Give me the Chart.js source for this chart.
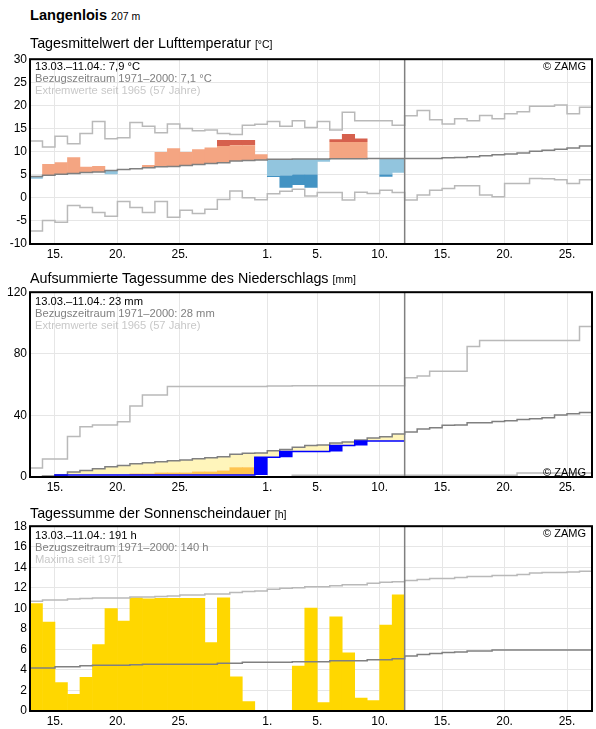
<!DOCTYPE html>
<html>
<head>
<meta charset="utf-8">
<script src="https://cdn.jsdelivr.net/npm/chart.js@4.4.1/dist/chart.umd.min.js"></script>
<style>
  body { margin: 0; background: #fff; font-family: "Liberation Sans", Arial, sans-serif; }
  #page { position: relative; width: 596px; height: 729px; overflow: hidden; }
  canvas { position: absolute; left: 0; }
  .t { position: absolute; white-space: nowrap; color: #000; z-index: 2; }
  .head { left: 30px; top: 6px; font-size: 14.6px; font-weight: bold; line-height: 18px; }
  .head small { font-size: 10.5px; font-weight: normal; }
  .ttl { left: 30px; font-size: 14.3px; line-height: 18px; }
  .ttl small { font-size: 10.5px; }
  .info { left: 35px; font-size: 11.2px; line-height: 12px; }
  .info .ref { color: #808080; }
  .info .ext { color: #c8c8c8; }
  .zamg { right: 10px; font-size: 11px; line-height: 12px; }
</style>
</head>
<body>
<div id="page">
  <canvas id="tempChart" width="596" height="215" style="top:49px"></canvas>
  <canvas id="rainChart" width="596" height="215" style="top:282px"></canvas>
  <canvas id="sunChart" width="596" height="215" style="top:516px"></canvas>

  <div class="t head">Langenlois <small>207 m</small></div>

  <div class="t ttl" style="top:34px">Tagesmittelwert der Lufttemperatur <small>[°C]</small></div>
  <div class="t info" style="top:59.5px">13.03.–11.04.: 7,9 °C<br><span class="ref">Bezugszeitraum 1971–2000: 7,1 °C</span><br><span class="ext">Extremwerte seit 1965 (57 Jahre)</span></div>
  <div class="t zamg" style="top:60px">© ZAMG</div>

  <div class="t ttl" style="top:269px">Aufsummierte Tagessumme des Niederschlags <small>[mm]</small></div>
  <div class="t info" style="top:294.5px">13.03.–11.04.: 23 mm<br><span class="ref">Bezugszeitraum 1971–2000: 28 mm</span><br><span class="ext">Extremwerte seit 1965 (57 Jahre)</span></div>
  <div class="t zamg" style="top:466px">© ZAMG</div>

  <div class="t ttl" style="top:504px">Tagessumme der Sonnenscheindauer <small>[h]</small></div>
  <div class="t info" style="top:528.5px">13.03.–11.04.: 191 h<br><span class="ref">Bezugszeitraum 1971–2000: 140 h</span><br><span class="ext">Maxima seit 1971</span></div>
  <div class="t zamg" style="top:527px">© ZAMG</div>
</div>

<script>
// days counted from 13.03. (day 0) to 26.04. (day 44), observations up to 11.04. (day 29)
const tickDays = [2, 7, 12, 19, 23, 28, 33, 38, 43];
const tickLabels = ['15.', '20.', '25.', '1.', '5.', '10.', '15.', '20.', '25.'];
const todayLine = 30;

// temperature [°C]
const tempObs = [4.1, 7.3, 7.7, 8.8, 6.7, 6.9, 5.1, 6.1, 6.3, 7.1, 9.9, 10.7, 9.9, 10.5, 10.9,
  12.5, 12.5, 12.5, 9.45, 4.5, 2.2, 2.75, 2.2, 7.8, 12.7, 13.8, 12.85, 8.5, 4.55, 5.4];
const tempMean = [4.6, 4.9, 5.1, 5.25, 5.5, 5.6, 5.9, 6.1, 6.3, 6.5, 6.7, 6.8, 7.0, 7.2, 7.4,
  7.6, 7.95, 8.1, 8.2, 8.35, 8.35, 8.4, 8.4, 8.4, 8.45, 8.45, 8.45, 8.5, 8.5, 8.5,
  8.5, 8.5, 8.5, 8.65, 8.7, 8.9, 9.1, 9.3, 9.5, 9.7, 10.05, 10.3, 10.5, 10.8, 11.2];
const tempHigh = [8.4, 8.6, 8.8, 9.0, 9.2, 9.4, 9.6, 9.8, 10.0, 10.2, 10.4, 10.8, 10.9, 11.0, 11.1,
  11.2, 11.4, 11.4, 11.5, 11.6, 11.7, 11.8, 11.9, 12.0, 12.1, 12.1, 12.1, 12.2, 12.2, 12.3];
const tempLow = [1.0, 1.2, 1.4, 1.6, 1.8, 2.0, 2.2, 2.4, 2.6, 2.8, 3.0, 3.2, 3.4, 3.6, 3.8,
  4.0, 4.2, 4.4, 4.6, 4.7, 4.9, 5.1, 5.1, 5.1, 5.1, 5.1, 5.1, 5.1, 5.1, 5.1];
const tempMax = [12.3, 11.0, 13.3, 11.7, 13.9, 16.5, 12.8, 13.0, 16.3, 15.5, 14.1, 16.0, 15.0, 14.5, 14.7,
  13.9, 13.7, 15.7, 15.9, 16.5, 15.5, 16.7, 15.2, 16.5, 14.7, 18.5, 16.7, 16.7, 16.7, 15.7,
  17.75, 18.9, 16.9, 16.0, 17.1, 16.7, 17.8, 17.1, 18.2, 18.6, 19.8, 19.8, 20.1, 18.2, 19.6];
const tempMin = [-7.2, -4.9, -5.3, -1.65, -2.1, -3.2, -4.0, -0.8, -2.1, -3.2, -0.8, -4.2, -2.7, -3.4, -2.5,
  -0.35, 1.45, 0.0, -0.4, 0.9, 1.4, 1.85, 0.4, 1.15, 1.15, -0.45, 1.2, 0.95, 1.65, 1.15,
  -0.5, 0.6, 1.65, 2.0, 2.6, 2.6, 0.6, 0.25, 3.1, 3.1, 4.2, 4.1, 3.9, 3.1, 3.9];

// cumulative precipitation [mm]
const rainObs = [0, 0, 1.3, 1.3, 1.3, 1.3, 1.3, 1.3, 1.3, 1.3, 1.3, 1.3, 1.3, 1.3, 1.3,
  1.3, 1.3, 1.3, 12.8, 12.8, 16.5, 16.5, 16.5, 16.5, 20.4, 20.4, 23.4, 23.4, 23.4, 23.4];
const rainLow = [0, 0.65, 0.9, 1.0, 1.1, 1.2, 1.25, 1.3, 2.35, 2.35, 3.0, 3.0, 3.0, 3.65, 3.65,
  4.2, 6.3, 6.3, 6.5, 6.8, 7.0, 7.4, 7.7, 8.0, 8.3, 8.6, 9.0, 9.4, 9.8, 10.2];
const rainMean = [0, 0.65, 1.5, 3.2, 4.2, 5.4, 6.6, 7.5, 8.6, 9.3, 9.9, 10.5, 11.1, 11.8, 12.5,
  13.2, 14.8, 15.4, 15.6, 17.0, 17.9, 19.3, 20.5, 20.8, 22.1, 22.8, 24.1, 25.3, 26.1, 28.0,
  29.3, 31.2, 32.0, 33.6, 33.8, 35.3, 35.3, 36.0, 36.6, 37.3, 37.9, 38.4, 40.3, 41.1, 41.9];
const rainMax = [5.9, 11.7, 11.7, 26.3, 32.6, 33.7, 33.7, 35.9, 46.1, 53.3, 53.3, 58.7, 58.7, 58.7, 58.7,
  58.7, 58.7, 58.7, 58.7, 59.1, 59.1, 59.3, 59.3, 59.3, 59.3, 59.3, 59.3, 59.3, 59.3, 59.3,
  64.5, 65.6, 68.7, 68.7, 68.7, 84.8, 88.7, 88.7, 88.7, 88.7, 88.7, 88.7, 88.7, 88.7, 97.8];
const rainMin = [0, 0, 0, 0, 0, 0, 0, 0, 0, 0, 0, 0, 0, 0, 0,
  0, 0, 0, 0, 0, 0, 1.2, 1.2, 1.2, 1.2, 1.2, 1.2, 1.2, 1.2, 1.2,
  1.2, 1.2, 1.2, 1.2, 1.2, 1.2, 1.2, 1.2, 1.2, 2.6, 2.6, 2.6, 2.6, 2.6, 2.6];

// sunshine duration [h]
const sunObs = [10.5, 8.7, 2.8, 1.65, 3.3, 6.5, 10.0, 8.8, 11.05, 10.95, 11.0, 11.0, 11.0, 11.0, 6.7,
  11.05, 3.35, 0.95, 0, 0, 0, 4.4, 10.05, 0.85, 9.2, 5.7, 1.3, 1.05, 8.4, 11.35];
const sunMean = [4.2, 4.2, 4.3, 4.3, 4.4, 4.45, 4.45, 4.45, 4.5, 4.55, 4.55, 4.55, 4.55, 4.55, 4.55,
  4.65, 4.65, 4.75, 4.75, 4.75, 4.75, 4.8, 4.8, 4.8, 4.9, 4.9, 4.9, 5.0, 5.0, 5.1,
  5.35, 5.5, 5.6, 5.7, 5.75, 5.85, 5.85, 5.95, 5.95, 5.95, 5.95, 5.95, 5.95, 5.95, 5.95];
const sunMax = [10.7, 10.8, 10.8, 10.9, 10.95, 11.0, 11.0, 11.0, 11.1, 11.1, 11.15, 11.2, 11.3, 11.3, 11.4,
  11.4, 11.55, 11.65, 11.7, 11.85, 11.95, 12.0, 12.1, 12.1, 12.2, 12.3, 12.3, 12.45, 12.55, 12.6,
  12.7, 12.8, 12.9, 12.9, 13.0, 13.1, 13.1, 13.2, 13.2, 13.3, 13.45, 13.5, 13.5, 13.55, 13.6];

const FONT = '"Liberation Sans", Arial, sans-serif';
Chart.defaults.font.family = FONT;
Chart.defaults.color = '#000';

const GRID = '#e6e6e6';
const EXT = '#b9b9b9';
const MEAN = '#808080';

// ------------------------------------------------------------
// helpers
// ------------------------------------------------------------
function steps(vals) {
  const pts = [];
  vals.forEach((v, i) => { pts.push({ x: i, y: v }, { x: i + 1, y: v }); });
  return pts;
}

function lineDs(vals, color, width) {
  return {
    type: 'line', data: steps(vals), borderColor: color, borderWidth: width,
    pointRadius: 0, fill: false, tension: 0, order: 1
  };
}

function barDs(ranges, color) {
  const data = [];
  ranges.forEach((r, i) => { if (r) data.push({ x: i + 0.5, y: r }); });
  return {
    type: 'bar', data, backgroundColor: color, borderWidth: 0,
    barPercentage: 1.05, categoryPercentage: 1, grouped: false, order: 5
  };
}

function todayDs(yMin, yMax) {
  return {
    type: 'line', data: [{ x: todayLine, y: yMin }, { x: todayLine, y: yMax }],
    borderColor: MEAN, borderWidth: 1.5, pointRadius: 0, order: 0
  };
}

const frame = {
  id: 'frame',
  afterDraw(chart) {
    const { ctx, chartArea: a } = chart;
    ctx.save();
    ctx.strokeStyle = '#000';
    ctx.lineWidth = 2;
    ctx.strokeRect(a.left, a.top, a.right - a.left, a.bottom - a.top);
    ctx.restore();
  }
};

function makeChart(id, datasets, yMin, yMax, yStep) {
  return new Chart(document.getElementById(id), {
    data: { datasets },
    plugins: [frame],
    options: {
      responsive: false,
      animation: false,
      devicePixelRatio: 1,
      layout: { padding: { top: 10, right: 4, left: 0, bottom: 0 } },
      plugins: { legend: { display: false }, tooltip: { enabled: false } },
      scales: {
        x: {
          type: 'linear', min: 0, max: 45, offset: false,
          afterBuildTicks: ax => { ax.ticks = tickDays.map(v => ({ value: v })); },
          afterFit: ax => { ax.height = 20; },
          grid: { color: GRID, lineWidth: 1, drawTicks: false, offset: false },
          border: { display: false },
          ticks: {
            padding: 3, maxRotation: 0, autoSkip: false, font: { size: 12 },
            callback: v => tickLabels[tickDays.indexOf(v)]
          }
        },
        y: {
          min: yMin, max: yMax,
          afterFit: ax => { ax.width = 30; },
          grid: { color: GRID, lineWidth: 1, drawTicks: false },
          border: { display: false },
          ticks: { stepSize: yStep, padding: 3, font: { size: 12 } }
        }
      }
    }
  });
}

// ------------------------------------------------------------
// temperature
// ------------------------------------------------------------
const warmLight = tempObs.map((v, i) => v > tempMean[i] ? [tempMean[i], Math.min(v, tempHigh[i])] : null);
const warmDark = tempObs.map((v, i) => v > tempHigh[i] ? [tempHigh[i], v] : null);
const coldLight = tempObs.map((v, i) => v < tempMean[i] ? [Math.max(v, tempLow[i]), tempMean[i]] : null);
const coldDark = tempObs.map((v, i) => v < tempLow[i] ? [v, tempLow[i]] : null);

makeChart('tempChart', [
  todayDs(-10, 30),
  lineDs(tempMean, MEAN, 1.5),
  lineDs(tempMax, EXT, 1.5),
  lineDs(tempMin, EXT, 1.5),
  barDs(warmLight, '#f4a582'),
  barDs(warmDark, '#d6604d'),
  barDs(coldLight, '#92c5de'),
  barDs(coldDark, '#4393c3')
], -10, 30, 5);

// ------------------------------------------------------------
// precipitation
// ------------------------------------------------------------
const rainDry = rainObs.map((v, i) => v < rainLow[i] ? [v, rainLow[i]] : null);
const rainDeficit = rainObs.map((v, i) => v < rainMean[i] ? [Math.max(v, rainLow[i]), rainMean[i]] : null);
const rainDaily = rainObs.map((v, i) => (i > 0 && v > rainObs[i - 1]) || (i === 0 && v > 0) ? [i > 0 ? rainObs[i - 1] : 0, v] : null);

makeChart('rainChart', [
  todayDs(0, 120),
  lineDs(rainObs, '#0000ff', 1.5),
  lineDs(rainMean, MEAN, 1.5),
  lineDs(rainMax, EXT, 1.5),
  lineDs(rainMin, EXT, 1.5),
  barDs(rainDaily, '#0000ff'),
  barDs(rainDry, '#fec44f'),
  barDs(rainDeficit, '#fff5bb')
], 0, 120, 40);

// ------------------------------------------------------------
// sunshine
// ------------------------------------------------------------
makeChart('sunChart', [
  todayDs(0, 18),
  lineDs(sunMean, MEAN, 1.5),
  lineDs(sunMax, EXT, 1.5),
  barDs(sunObs.map(v => v > 0 ? [0, v] : null), '#ffd700')
], 0, 18, 2);
</script>
</body>
</html>
